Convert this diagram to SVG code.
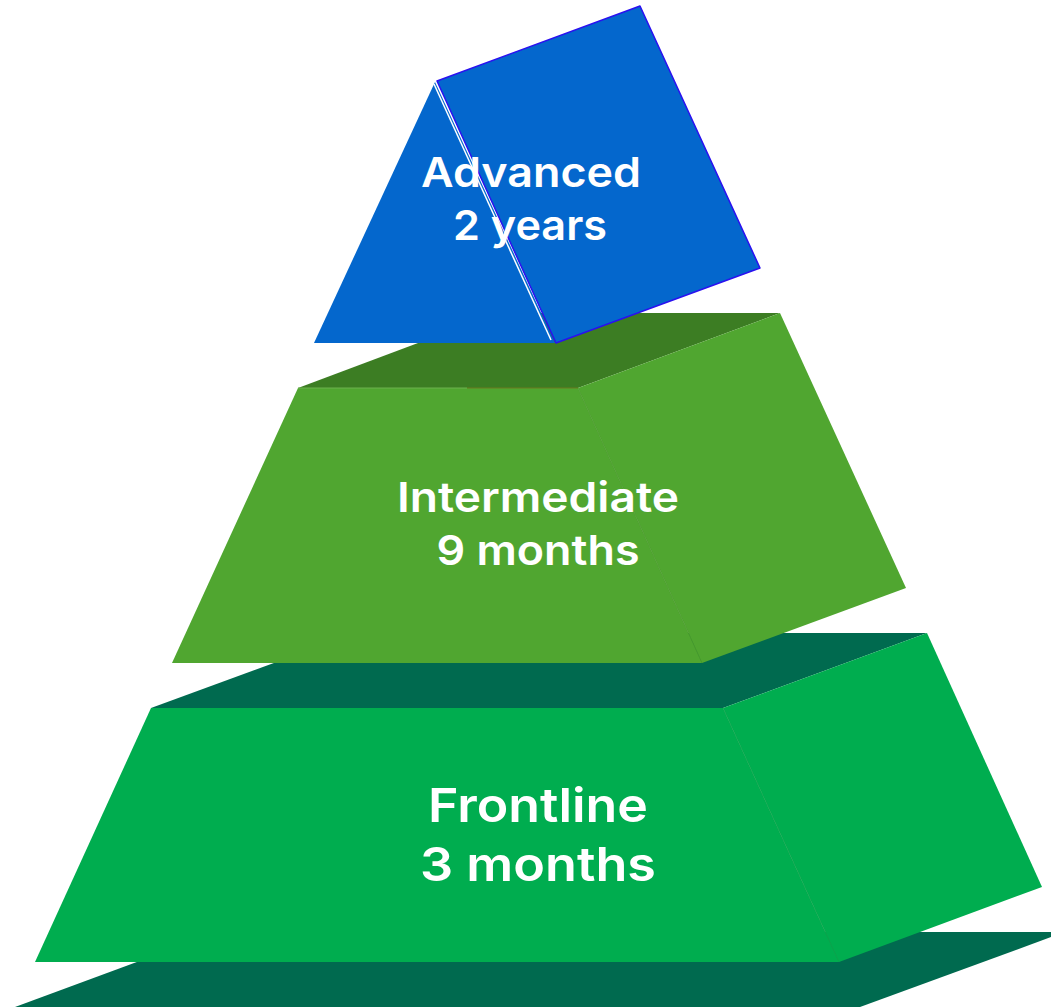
<svg xmlns="http://www.w3.org/2000/svg" width="1051" height="1008" viewBox="0 0 1051 1008">
  <style>
    .lbl { font-family: Inter, "Open Sans", "Liberation Sans", sans-serif; font-weight: 600; fill: #ffffff; text-anchor: middle; }
    .blue { fill: #0467CD; }
    .mid { fill: #50A630; }
    .midTop { fill: #3C7D23; }
    .low { fill: #00AD4F; }
    .dark { fill: #006A4F; }
  </style>
  <g id="base-plate">
    <polygon class="dark" points="15,1007 218,932 1065,932 860,1007"/>
  </g>
  <g id="frontline">
    <polygon class="dark" points="151,708 356,633 927,633 723,708"/>
    <polygon class="low" points="723,708 927,633 1042,887 839,962"/>
    <polygon class="low" points="151,708 723,708 839,962 35,962"/>
    <line x1="723" y1="708" x2="839" y2="962" stroke="#0FA64C" stroke-width="0.8"/>
    <text class="lbl" x="538" y="822" font-size="47" textLength="220" lengthAdjust="spacingAndGlyphs">Frontline</text>
    <text class="lbl" x="538" y="881" font-size="47" textLength="236" lengthAdjust="spacingAndGlyphs">3 months</text>
  </g>
  <g id="intermediate">
    <polygon class="midTop" points="298,388 498,313 780,313 578,388"/>
    <polygon class="mid" points="578,388 780,313 906,588 702,663"/>
    <polygon class="mid" points="298,388 578,388 702,663 172,663"/>
    <line x1="578" y1="388" x2="702" y2="663" stroke="#4A9A2C" stroke-width="0.8"/>
    <line x1="298" y1="388" x2="467" y2="388" stroke="#6DB24E" stroke-width="1"/>
    <line x1="467" y1="388" x2="578" y2="388" stroke="#6B7A20" stroke-width="1"/>
    <text class="lbl" x="538" y="512" font-size="41" textLength="282" lengthAdjust="spacingAndGlyphs">Intermediate</text>
    <text class="lbl" x="538" y="565" font-size="41" textLength="203" lengthAdjust="spacingAndGlyphs">9 months</text>
  </g>
  <g id="advanced">
    <polygon class="blue" points="435,82 555,343 314,343"/>
    <polygon class="blue" points="437,81 640,6 760,268 556,343" stroke="#2A10F0" stroke-width="1.5" stroke-linejoin="round"/>
    <line x1="434" y1="84" x2="551" y2="340" stroke="#ffffff" stroke-width="1.5"/>
    <text class="lbl" x="531" y="187" font-size="41" textLength="220" lengthAdjust="spacingAndGlyphs">Advanced</text>
    <text class="lbl" x="530" y="240" font-size="41" textLength="154" lengthAdjust="spacingAndGlyphs">2 years</text>
  </g>
  <g id="connectors"></g>
</svg>
